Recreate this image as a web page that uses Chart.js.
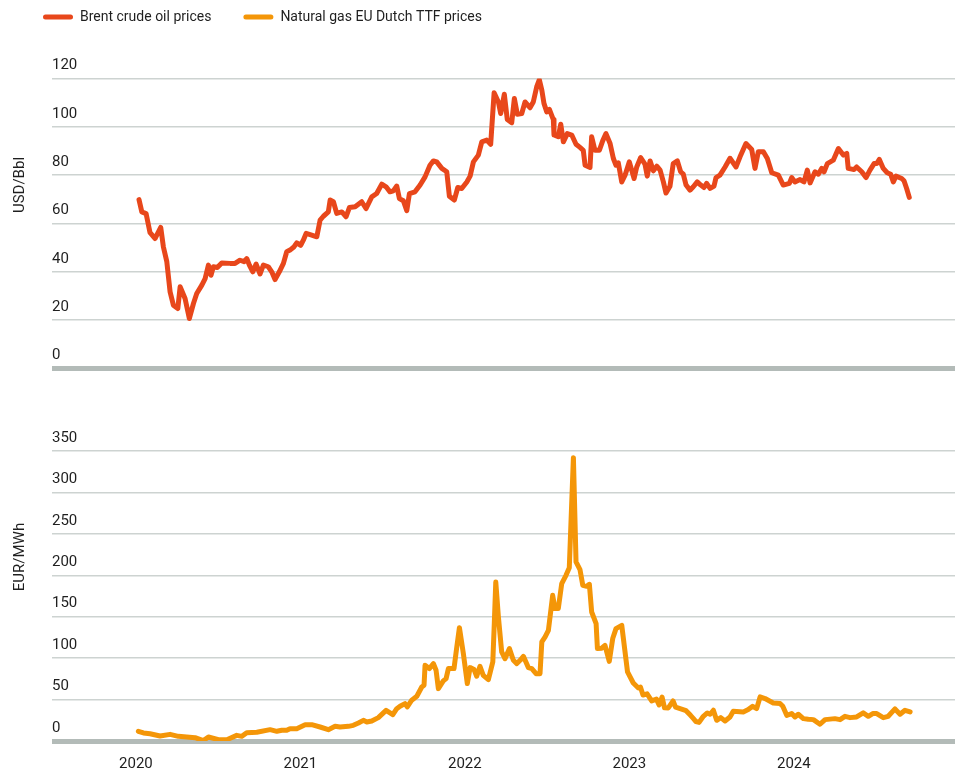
<!DOCTYPE html>
<html>
<head>
<meta charset="utf-8">
<script src="https://cdn.jsdelivr.net/npm/chart.js@4.4.1/dist/chart.umd.min.js"></script>
<style>
html, body { margin: 0; padding: 0; background: #ffffff; }
#wrap { position: relative; width: 955px; height: 773px; overflow: hidden; }
#wrap canvas { position: absolute; left: 0; display: block; }
</style>
</head>
<body>
<div id="wrap">
  <canvas id="oilChart" width="955" height="380" style="top:0px"></canvas>
  <canvas id="gasChart" width="955" height="393" style="top:380px"></canvas>
</div>
<script>
// ---------- data ----------
const seriesNames = ['Brent crude oil prices', 'Natural gas EU Dutch TTF prices'];
const unitLabels = ['USD/Bbl', 'EUR/MWh'];
const yearTicks = [2020, 2021, 2022, 2023, 2024];

// time in decimal years, Brent USD/bbl
const oilT = [
  2020.019, 2020.036, 2020.062, 2020.086, 2020.117, 2020.151, 2020.167, 2020.188, 2020.208, 2020.228,
  2020.255, 2020.269, 2020.299, 2020.325, 2020.350, 2020.370, 2020.401, 2020.421, 2020.441, 2020.457,
  2020.471, 2020.495, 2020.522, 2020.573, 2020.603, 2020.633, 2020.658, 2020.674, 2020.690, 2020.711,
  2020.731, 2020.755, 2020.775, 2020.805, 2020.826, 2020.846, 2020.872, 2020.897, 2020.917, 2020.937,
  2020.962, 2020.978, 2021.002, 2021.018, 2021.035, 2021.069, 2021.100, 2021.120, 2021.140, 2021.170,
  2021.181, 2021.201, 2021.221, 2021.252, 2021.278, 2021.298, 2021.333, 2021.373, 2021.399, 2021.434,
  2021.464, 2021.495, 2021.521, 2021.545, 2021.565, 2021.586, 2021.602, 2021.626, 2021.647, 2021.663,
  2021.697, 2021.728, 2021.758, 2021.788, 2021.809, 2021.829, 2021.860, 2021.890, 2021.906, 2021.936,
  2021.957, 2021.981, 2022.012, 2022.032, 2022.052, 2022.082, 2022.103, 2022.133, 2022.157, 2022.178,
  2022.204, 2022.218, 2022.240, 2022.258, 2022.285, 2022.301, 2022.319, 2022.346, 2022.366, 2022.396,
  2022.416, 2022.437, 2022.453, 2022.468, 2022.481, 2022.498, 2022.514, 2022.538, 2022.542, 2022.568,
  2022.583, 2022.599, 2022.623, 2022.650, 2022.676, 2022.700, 2022.720, 2022.731, 2022.761, 2022.771,
  2022.791, 2022.818, 2022.838, 2022.858, 2022.883, 2022.903, 2022.919, 2022.933, 2022.954, 2022.974,
  2023.000, 2023.029, 2023.045, 2023.069, 2023.095, 2023.109, 2023.126, 2023.146, 2023.167, 2023.187,
  2023.207, 2023.223, 2023.247, 2023.267, 2023.292, 2023.312, 2023.328, 2023.345, 2023.369, 2023.389,
  2023.413, 2023.434, 2023.454, 2023.470, 2023.491, 2023.515, 2023.527, 2023.551, 2023.582, 2023.612,
  2023.649, 2023.673, 2023.709, 2023.744, 2023.764, 2023.784, 2023.815, 2023.839, 2023.866, 2023.906,
  2023.936, 2023.973, 2023.987, 2024.007, 2024.038, 2024.062, 2024.082, 2024.099, 2024.129, 2024.149,
  2024.170, 2024.184, 2024.204, 2024.240, 2024.271, 2024.301, 2024.322, 2024.331, 2024.366, 2024.382,
  2024.413, 2024.439, 2024.463, 2024.488, 2024.504, 2024.520, 2024.544, 2024.568, 2024.589, 2024.605,
  2024.621, 2024.656, 2024.670, 2024.686, 2024.702
];
const oilPrice = [
  69.9, 64.8, 64.1, 56.2, 53.8, 58.4, 50.4, 44.2, 31.7, 26.2,
  24.8, 33.8, 29.0, 20.7, 26.9, 31.0, 34.5, 37.2, 42.8, 38.6,
  42.1, 41.8, 43.7, 43.5, 43.5, 44.8, 44.2, 45.5, 42.8, 40.0,
  43.2, 39.1, 42.8, 42.1, 40.0, 36.8, 40.0, 43.5, 48.3, 49.0,
  50.4, 52.0, 51.0, 53.1, 55.9, 55.2, 54.5, 61.4, 63.0, 64.8,
  69.7, 69.0, 64.2, 64.8, 62.8, 66.6, 66.9, 69.0, 66.2, 71.0,
  72.4, 76.3, 75.2, 73.1, 73.5, 75.5, 70.3, 69.4, 65.3, 72.4,
  73.1, 75.9, 79.3, 84.1, 85.9, 85.5, 82.8, 81.4, 71.3, 69.7,
  74.9, 74.5, 77.2, 79.6, 85.5, 88.3, 93.8, 94.5, 92.8, 114.1,
  110.3, 105.5, 113.5, 103.0, 101.7, 111.7, 105.2, 105.5, 110.3, 107.9,
  110.3, 116.6, 119.5, 115.2, 109.7, 106.2, 107.2, 103.0, 96.6, 95.9,
  101.1, 93.8, 97.2, 96.6, 92.8, 91.5, 90.3, 84.1, 83.2, 95.9,
  90.3, 90.3, 94.2, 97.2, 93.1, 86.9, 84.1, 85.1, 77.2, 80.0,
  85.5, 78.6, 83.4, 87.3, 84.6, 79.6, 85.9, 81.8, 83.7, 82.1,
  77.2, 72.6, 75.4, 84.8, 85.9, 81.4, 80.4, 75.9, 73.8, 75.2,
  77.2, 75.9, 74.9, 76.6, 74.5, 75.5, 79.0, 80.0, 83.4, 87.0,
  83.4, 87.6, 93.1, 90.6, 82.8, 89.7, 89.7, 86.9, 81.0, 80.0,
  75.9, 76.6, 79.0, 77.2, 78.2, 77.2, 82.1, 76.8, 81.4, 80.4,
  82.8, 81.4, 84.8, 86.2, 91.0, 88.3, 89.0, 82.8, 82.3, 83.4,
  81.4, 79.0, 82.1, 84.8, 84.8, 86.5, 82.8, 81.0, 80.4, 77.2,
  79.6, 78.6, 77.7, 74.5, 70.8
];

// time in decimal years, TTF EUR/MWh
const gasT = [
  2020.015, 2020.046, 2020.086, 2020.147, 2020.208, 2020.258, 2020.309, 2020.360, 2020.410, 2020.441,
  2020.502, 2020.553, 2020.613, 2020.644, 2020.674, 2020.735, 2020.816, 2020.857, 2020.887, 2020.917,
  2020.937, 2020.978, 2021.029, 2021.069, 2021.120, 2021.170, 2021.211, 2021.241, 2021.292, 2021.322,
  2021.353, 2021.383, 2021.404, 2021.434, 2021.474, 2021.521, 2021.562, 2021.586, 2021.606, 2021.636,
  2021.650, 2021.677, 2021.708, 2021.738, 2021.752, 2021.758, 2021.784, 2021.809, 2021.825, 2021.839,
  2021.869, 2021.886, 2021.900, 2021.934, 2021.951, 2021.967, 2021.991, 2022.015, 2022.032, 2022.056,
  2022.072, 2022.092, 2022.112, 2022.143, 2022.170, 2022.179, 2022.188, 2022.204, 2022.224, 2022.244,
  2022.271, 2022.295, 2022.316, 2022.336, 2022.356, 2022.386, 2022.407, 2022.433, 2022.457, 2022.468,
  2022.488, 2022.508, 2022.534, 2022.548, 2022.568, 2022.589, 2022.615, 2022.635, 2022.660, 2022.676,
  2022.700, 2022.717, 2022.741, 2022.757, 2022.771, 2022.798, 2022.806, 2022.832, 2022.852, 2022.878,
  2022.899, 2022.919, 2022.954, 2022.989, 2023.024, 2023.055, 2023.068, 2023.083, 2023.108, 2023.136,
  2023.165, 2023.181, 2023.199, 2023.214, 2023.237, 2023.266, 2023.281, 2023.345, 2023.372, 2023.390,
  2023.405, 2023.424, 2023.450, 2023.474, 2023.491, 2023.511, 2023.531, 2023.556, 2023.582, 2023.612,
  2023.632, 2023.693, 2023.723, 2023.750, 2023.774, 2023.795, 2023.825, 2023.875, 2023.916, 2023.933,
  2023.957, 2023.987, 2024.007, 2024.027, 2024.058, 2024.088, 2024.119, 2024.159, 2024.190, 2024.250,
  2024.281, 2024.311, 2024.342, 2024.382, 2024.422, 2024.453, 2024.480, 2024.504, 2024.544, 2024.574,
  2024.615, 2024.646, 2024.676, 2024.707
];
const gasPrice = [
  11.7, 9.7, 8.8, 6.0, 8.0, 5.6, 4.8, 4.0, 0.5, 4.8,
  1.6, 1.6, 6.8, 5.6, 10.1, 10.5, 13.7, 11.7, 12.9, 12.9,
  14.9, 14.9, 19.7, 19.7, 16.9, 13.7, 17.7, 16.9, 17.7, 18.9,
  21.7, 24.9, 22.9, 24.1, 28.2, 37.0, 31.8, 39.0, 41.9, 45.1,
  41.1, 49.2, 54.0, 65.2, 67.3, 91.4, 87.4, 93.4, 85.4, 63.2,
  72.5, 75.3, 87.4, 87.4, 113.5, 136.8, 105.5, 69.3, 88.6, 86.2,
  78.1, 90.2, 79.3, 74.1, 95.4, 141.7, 191.9, 149.7, 107.5, 99.4,
  111.5, 97.4, 93.4, 97.4, 102.2, 88.6, 87.4, 81.3, 81.3, 119.5,
  125.6, 133.6, 175.8, 159.8, 159.8, 189.9, 200.0, 209.2, 342.0, 216.1,
  206.8, 187.9, 186.7, 189.1, 155.7, 141.7, 111.5, 112.0, 115.5, 96.0,
  123.6, 135.6, 139.6, 83.4, 70.0, 64.0, 65.0, 55.5, 57.0, 48.4,
  50.5, 43.5, 53.0, 40.0, 39.9, 48.3, 40.8, 36.6, 31.0, 27.0,
  23.5, 22.5, 29.8, 33.9, 32.3, 37.1, 25.0, 28.2, 24.2, 29.0,
  35.9, 35.1, 37.9, 41.9, 39.1, 53.2, 51.2, 45.9, 45.2, 41.9,
  31.0, 33.1, 29.0, 32.3, 27.0, 26.2, 25.8, 20.2, 25.8, 27.0,
  25.8, 29.8, 28.2, 29.0, 33.9, 29.8, 33.1, 33.1, 28.2, 29.8,
  38.7, 32.3, 37.1, 35.1
];

// ---------- styling ----------
const seriesColors = ['#E8471B', '#F49608'];
const FONT_FAMILY = 'Roboto, "Liberation Sans", sans-serif';
const TEXT_COLOR = '#1f1f1f';
const GRID_COLOR = '#cdd3d1';
const BASE_COLOR = '#b3bbb8';
const X_MIN = 2019.49;
const X_MAX = 2024.98;

const unitTitle = {
  id: 'unitTitle',
  afterDraw(chart, args, opts) {
    const ctx = chart.ctx;
    ctx.save();
    ctx.translate(opts.x, opts.y);
    ctx.rotate(-Math.PI / 2);
    ctx.font = '15px ' + FONT_FAMILY;
    ctx.fillStyle = TEXT_COLOR;
    ctx.textAlign = 'center';
    ctx.textBaseline = 'middle';
    ctx.fillText(opts.text, 0, 0);
    ctx.restore();
  }
};

const legendSpacer = {
  id: 'legendSpacer',
  beforeInit(chart) {
    const legend = chart.legend;
    if (!legend) return;
    const origFit = legend.fit;
    legend.fit = function () {
      origFit.call(this);
      this.height = 100.5;
    };
  }
};

function yScale(max, step, width) {
  return {
    type: 'linear',
    min: 0,
    max: max,
    afterFit(scale) { scale.width = width; },
    border: { display: false },
    grid: {
      drawTicks: false,
      color: (c) => (c.tick && c.tick.value === 0 ? BASE_COLOR : GRID_COLOR),
      lineWidth: (c) => (c.tick && c.tick.value === 0 ? 5 : 1.5)
    },
    ticks: {
      stepSize: step,
      mirror: true,
      padding: 0,
      labelOffset: -13,
      color: TEXT_COLOR,
      font: { family: FONT_FAMILY, size: 15 }
    }
  };
}

function xScale(show) {
  return {
    type: 'linear',
    min: X_MIN,
    max: X_MAX,
    display: show,
    afterBuildTicks(scale) { scale.ticks = yearTicks.map(v => ({ value: v })); },
    border: { display: false },
    grid: { display: false, drawTicks: false },
    ticks: {
      padding: 14,
      autoSkip: false,
      maxRotation: 0,
      color: TEXT_COLOR,
      font: { family: FONT_FAMILY, size: 15 },
      callback: (v) => String(v)
    }
  };
}

function lineDataset(label, ts, vs, color) {
  return {
    label: label,
    data: ts.map((t, i) => ({ x: t, y: vs[i] })),
    borderColor: color,
    backgroundColor: color,
    borderWidth: 5,
    pointRadius: 0,
    pointHoverRadius: 0,
    tension: 0,
    fill: false,
    borderJoinStyle: 'round',
    borderCapStyle: 'round'
  };
}

new Chart(document.getElementById('oilChart'), {
  type: 'line',
  data: { datasets: [lineDataset(seriesNames[0], oilT, oilPrice, seriesColors[0])] },
  options: {
    responsive: false,
    animation: false,
    devicePixelRatio: 1,
    layout: { padding: { top: -22, left: 11, right: 0, bottom: 11.5 } },
    scales: { x: xScale(false), y: yScale(120, 20, 41) },
    plugins: {
      tooltip: { enabled: false },
      legend: {
        display: true,
        position: 'top',
        align: 'start',
        labels: {
          boxWidth: 30,
          boxHeight: 5,
          padding: 32,
          useBorderRadius: true,
          borderRadius: 2.5,
          color: TEXT_COLOR,
          font: { family: FONT_FAMILY, size: 14 },
          generateLabels: () => seriesNames.map((name, i) => ({
            text: name,
            fillStyle: seriesColors[i],
            strokeStyle: seriesColors[i],
            lineWidth: 0,
            hidden: false,
            borderRadius: 2.5,
            fontColor: TEXT_COLOR,
            datasetIndex: i
          }))
        },
        onClick: () => {}
      },
      unitTitle: { text: unitLabels[0], x: 20, y: 185 }
    }
  },
  plugins: [legendSpacer, unitTitle]
});

new Chart(document.getElementById('gasChart'), {
  type: 'line',
  data: { datasets: [lineDataset(seriesNames[1], gasT, gasPrice, seriesColors[1])] },
  options: {
    responsive: false,
    animation: false,
    devicePixelRatio: 1,
    layout: { padding: { top: 71, left: 0, right: 0, bottom: -14 } },
    scales: { x: xScale(true), y: yScale(350, 50, 52) },
    plugins: {
      tooltip: { enabled: false },
      legend: { display: false },
      unitTitle: { text: unitLabels[1], x: 20, y: 177 }
    }
  },
  plugins: [unitTitle]
});
</script>
</body>
</html>
